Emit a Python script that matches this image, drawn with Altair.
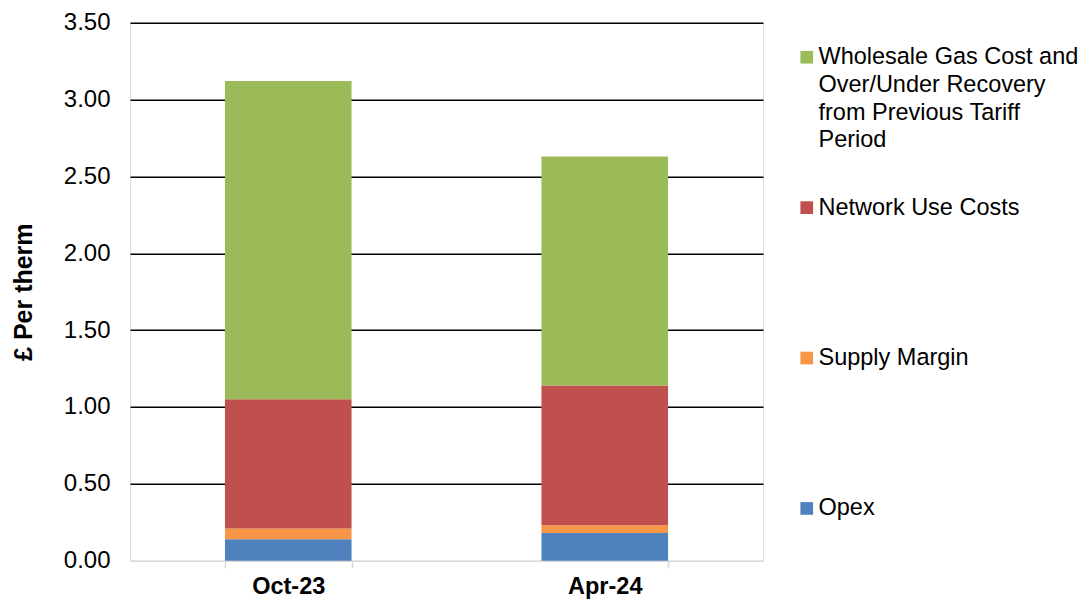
import altair as alt
import pandas as pd

# ---- data ----
periods = ["Oct-23", "Apr-24"]
components = [
    "Opex",
    "Supply Margin",
    "Network Use Costs",
    "Wholesale Gas Cost and Over/Under Recovery from Previous Tariff Period",
]
opex = [0.14, 0.18]
supply_margin = [0.07, 0.05]
network_use = [0.84, 0.91]
wholesale = [2.07, 1.49]
colors = ["#4F81BD", "#F79646", "#C0504D", "#9BBB59"]
wholesale_lines = ["Wholesale Gas Cost and", "Over/Under Recovery", "from Previous Tariff", "Period"]
y_ticks = [0.0, 0.5, 1.0, 1.5, 2.0, 2.5, 3.0, 3.5]

series = [opex, supply_margin, network_use, wholesale]
rows = []
for i, p in enumerate(periods):
    for rank, (comp, vals) in enumerate(zip(components, series)):
        rows.append({"Period": p, "Component": comp, "Value": vals[i], "rank": rank})
df = pd.DataFrame(rows)

FONT = "Liberation Sans"


def js_arr(lines):
    return "[" + ",".join("'" + s + "'" for s in lines) + "]"


# multi-line legend label; single-line labels padded with empty lines so every entry is equally tall
label_expr = (
    f"datum.label == '{components[3]}' ? {js_arr(wholesale_lines)} : "
    "[datum.label, '', '', '']"
)

legend_domain = components[::-1]
legend_range = colors[::-1]

chart = (
    alt.Chart(df)
    .mark_bar()
    .encode(
        x=alt.X(
            "Period:N",
            sort=periods,
            title=None,
            scale=alt.Scale(paddingInner=0.6, paddingOuter=0.3),
            axis=alt.Axis(
                labelAngle=0,
                labelFont=FONT,
                labelFontSize=23.5,
                labelFontWeight="bold",
                labelColor="#000000",
                domainColor="#d9d9d9",
                domainWidth=1.5,
                tickColor="#d9d9d9",
                tickWidth=1.5,
                tickSize=7,
                tickBand="extent",
                labelPadding=7,
                grid=False,
            ),
        ),
        y=alt.Y(
            "Value:Q",
            stack="zero",
            title="£ Per therm",
            scale=alt.Scale(domain=[0, 3.5], nice=False),
            axis=alt.Axis(
                values=y_ticks,
                format=".2f",
                domain=False,
                ticks=False,
                tickSize=0,
                labelPadding=20,
                labelFont=FONT,
                labelFontSize=24,
                labelColor="#000000",
                gridColor=alt.condition("datum.value === 0", alt.value("#ffffff00"), alt.value("#000000")),
                gridWidth=1.5,
                titleFont=FONT,
                titleFontSize=25,
                titleFontWeight="bold",
                titleColor="#000000",
                titlePadding=27,
            ),
        ),
        color=alt.Color(
            "Component:N",
            scale=alt.Scale(domain=legend_domain, range=legend_range),
            legend=alt.Legend(
                title=None,
                orient="none",
                legendX=665,
                legendY=22.8,
                symbolType="square",
                symbolSize=161,
                symbolStrokeWidth=0,
                labelFont=FONT,
                labelFontSize=23.5,
                labelColor="#000000",
                labelOffset=0,
                labelLimit=400,
                labelExpr=label_expr,
                rowPadding=42.4,
            ),
        ),
        order=alt.Order("rank:Q"),
    )
    .properties(
        width=633,
        height=538,
        autosize=alt.AutoSizeParams(type="none"),
        padding={"left": 122, "top": 14.7, "right": 320, "bottom": 40},
    )
    .configure_view(strokeWidth=0)
    .configure(style={"guide-label": {"lineHeight": 27.7}})
)

chart.save("out.html", embed_options={"renderer": "svg", "actions": False})
